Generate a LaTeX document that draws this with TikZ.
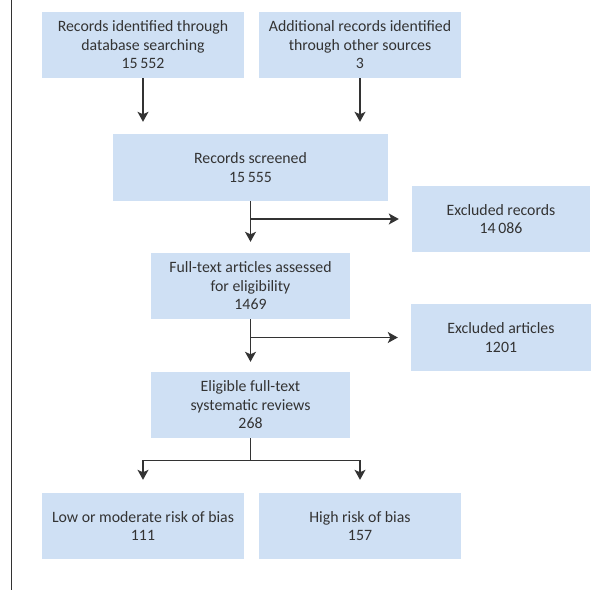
\documentclass[tikz,border=0pt]{standalone}
\usepackage{fontspec}
\setmainfont{Carlito}
\usetikzlibrary{arrows.meta}
\definecolor{boxfill}{HTML}{CFE0F4}
\definecolor{ink}{HTML}{333333}
\tikzset{
  flowbox/.style={fill=boxfill, draw=none, align=center, inner sep=0pt,
    text=ink, font=\fontsize{15.8}{18.5}\selectfont},
  conn/.style={draw=ink, line width=1.2pt},
  arr/.style={conn, -{Stealth[length=10pt,width=11pt,inset=2.5pt]}},
}
\begin{document}
\begin{tikzpicture}[x=1pt,y=-1pt]
\useasboundingbox (0,0) rectangle (616,590);
\draw[draw=ink, line width=1.5pt] (11.5,0) -- (11.5,590);
\node[flowbox, minimum width=202pt, minimum height=66pt] (A) at (143,45) {Records identified through\\database searching\\15\,552};
\node[flowbox, minimum width=202pt, minimum height=66pt] (B) at (360,45) {Additional records identified\\through other sources\\3};
\node[flowbox, minimum width=275pt, minimum height=67pt] (C) at (250.5,167.5) {Records screened\\15\,555};
\node[flowbox, minimum width=178pt, minimum height=66pt] (E) at (501,219) {Excluded records\\14\,086};
\node[flowbox, minimum width=199pt, minimum height=66pt] (D) at (250.5,286) {Full-text articles assessed\\for eligibility\\1469};
\node[flowbox, minimum width=180pt, minimum height=67pt] (G) at (501,337.5) {Excluded articles\\1201};
\node[flowbox, minimum width=199pt, minimum height=66pt] (F) at (250.5,405) {Eligible full-text\\systematic reviews\\268};
\node[flowbox, minimum width=202pt, minimum height=66pt] (H) at (143,526) {Low or moderate risk of bias\\111};
\node[flowbox, minimum width=202pt, minimum height=66pt] (I) at (360,526) {High risk of bias\\157};
% connectors
\draw[arr, shorten >=12pt] (A.south) -- (A.south |- C.north);
\draw[arr, shorten >=12pt] (B.south) -- (B.south |- C.north);
\coordinate (c1) at (C.south |- E.west);
\draw[arr, shorten >=11pt] (C.south) -- (D.north);
\draw[arr, shorten >=13pt] (c1) -- (E.west);
\coordinate (c2) at (D.south |- G.west);
\draw[arr, shorten >=10pt] (D.south) -- (F.north);
\draw[arr, shorten >=13pt] (c2) -- (G.west);
\coordinate (c3) at ([yshift=-22pt]F.south);
\draw[conn] (F.south) -- (c3);
\draw[conn] (c3 -| H.north) -- (c3 -| I.north);
\draw[arr, shorten >=13pt] (c3 -| H.north) -- (H.north);
\draw[arr, shorten >=13pt] (c3 -| I.north) -- (I.north);
\end{tikzpicture}
\end{document}
